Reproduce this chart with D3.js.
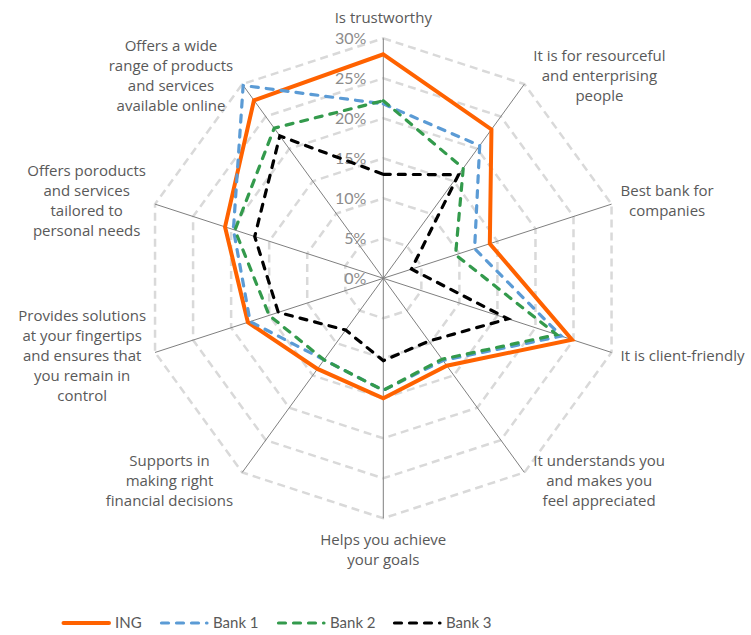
<!DOCTYPE html>
<meta charset="utf-8">
<style>
  body { margin: 0; background: #fff; }
  text { font-family: Lato, "Open Sans", sans-serif; }
</style>
<body>
<script src="https://cdn.jsdelivr.net/npm/d3@7"></script>
<script>

    // categories, clockwise from the top
    var categories = [
        "Is trustworthy",
        "It is for resourceful|and enterprising|people",
        "Best bank for|companies",
        "It is client-friendly",
        "It understands you|and makes you|feel appreciated",
        "Helps you achieve|your goals",
        "Supports in|making right|financial decisions",
        "Provides solutions|at your fingertips|and ensures that|you remain in|control",
        "Offers poroducts|and services|tailored to|personal needs",
        "Offers a wide|range of products|and services|available online"
    ];

    var seriesNames = ["ING", "Bank 1", "Bank 2", "Bank 3"];

    var ing   = [28, 23, 14, 24.8, 13.5, 15, 14, 17.8, 20.8, 27.5];
    var bank1 = [21.8, 20.5, 12, 23.4, 12.7, 14, 12.6, 17.5, 19.7, 29.8];
    var bank2 = [22.2, 17, 9.5, 22.8, 12.5, 14, 12.6, 15, 19.5, 23.2];
    var bank3 = [13, 16, 3.7, 16.4, 9.7, 10.3, 8, 13.8, 16.9, 22];

    var ticks = [0, 5, 10, 15, 20, 25, 30];

    var w = 751, h = 635;
    var cx = 383.3, cy = 278.3;

    var svg = d3.select("body")
            .append("svg")
            .attr("width", w)
            .attr("height", h);

    var r = d3.scaleLinear().domain([0, 30]).range([0, 240]);
    var angle = d3.scaleLinear().domain([0, categories.length]).range([0, 2 * Math.PI]);

    function pt(i, v) {
        var a = angle(i);
        return [cx + r(v) * Math.sin(a), cy - r(v) * Math.cos(a)];
    }

    var idx = d3.range(categories.length);

    // grid rings
    svg.selectAll("polygon.ring")
            .data(ticks.slice(1))
            .enter()
            .append("polygon")
            .attr("class", "ring")
            .attr("points", function(t) {
                return idx.map(function(i) { return pt(i, t).join(","); }).join(" ");
            })
            .attr("fill", "none")
            .attr("stroke", "#d9d9d9")
            .attr("stroke-width", 2.5)
            .attr("stroke-dasharray", "8,5");

    // spokes
    svg.selectAll("line.spoke")
            .data(idx)
            .enter()
            .append("line")
            .attr("class", "spoke")
            .attr("x1", cx).attr("y1", cy)
            .attr("x2", function(i) { return pt(i, 30)[0]; })
            .attr("y2", function(i) { return pt(i, 30)[1]; })
            .attr("stroke", "#7f7f7f")
            .attr("stroke-width", 1);

    // tick labels
    svg.selectAll("text.tick")
            .data(ticks)
            .enter()
            .append("text")
            .attr("class", "tick")
            .attr("x", cx - 17)
            .attr("y", function(t) { return cy - r(t); })
            .attr("dy", "0.35em")
            .attr("text-anchor", "end")
            .attr("fill", "#8c8c8c")
            .style("font-size", "16px")
            .text(function(t) { return t + "%"; });

    // series
    var series = [
        { name: seriesNames[0], values: ing,   color: "#ff6200", width: 4,   dash: null },
        { name: seriesNames[1], values: bank1, color: "#5b9bd5", width: 3.2, dash: "7,8" },
        { name: seriesNames[2], values: bank2, color: "#339a4c", width: 3.2, dash: "7,8" },
        { name: seriesNames[3], values: bank3, color: "#000000", width: 3.2, dash: "7,8" }
    ];

    var radar = d3.lineRadial()
            .angle(function(d, i) { return angle(i); })
            .radius(function(d) { return r(d); })
            .curve(d3.curveLinearClosed);

    svg.append("g")
            .attr("transform", "translate(" + cx + "," + cy + ")")
            .selectAll("path")
            .data(series)
            .enter()
            .append("path")
            .attr("d", function(s) { return radar(s.values); })
            .attr("fill", "none")
            .attr("stroke", function(s) { return s.color; })
            .attr("stroke-width", function(s) { return s.width; })
            .attr("stroke-linejoin", "miter")
            .attr("stroke-linecap", function(s) { return s.dash ? "round" : "butt"; })
            .attr("stroke-dasharray", function(s) { return s.dash; });

    // category labels
    var lineH = 20;
    idx.forEach(function(i) {
        var lines = categories[i].split("|");
        var a = angle(i), s = Math.sin(a), c = Math.cos(a);
        var end = pt(i, 30);
        var g = svg.append("g");
        var txt = g.selectAll("text")
                .data(lines)
                .enter()
                .append("text")
                .attr("text-anchor", "middle")
                .attr("dy", "0.35em")
                .attr("fill", "#595959")
                .style("font-family", "'Open Sans', sans-serif")
                .style("font-size", "15px")
                .text(function(d) { return d; });
        var maxW = d3.max(txt.nodes(), function(n) { return n.getComputedTextLength(); });
        var n = lines.length, bx, by;
        if (Math.abs(s) < 0.01) {
            bx = end[0];
            by = end[1] - c * (n * lineH / 2 + 11);
        } else {
            by = end[1] - 10 * c;
            bx = s > 0 ? end[0] + 9 + maxW / 2 : end[0] - 9 - maxW / 2;
        }
        txt.attr("x", bx)
           .attr("y", function(d, k) { return by + (k - (n - 1) / 2) * lineH; });
    });

    // legend
    var legendX = d3.scaleOrdinal().domain(seriesNames).range([62, 160, 277, 393]);
    var lg = svg.selectAll("g.legend")
            .data(series)
            .enter()
            .append("g")
            .attr("class", "legend")
            .attr("transform", function(s) { return "translate(" + legendX(s.name) + ",623)"; });
    lg.append("line")
            .attr("x1", 1.5).attr("x2", 47)
            .attr("stroke", function(s) { return s.color; })
            .attr("stroke-width", function(s) { return s.width; })
            .attr("stroke-linecap", "round")
            .attr("stroke-dasharray", function(s) { return s.dash; });
    lg.append("text")
            .attr("x", 53)
            .attr("dy", "0.35em")
            .attr("fill", "#595959")
            .style("font-size", "15px")
            .text(function(s) { return s.name; });

</script>
